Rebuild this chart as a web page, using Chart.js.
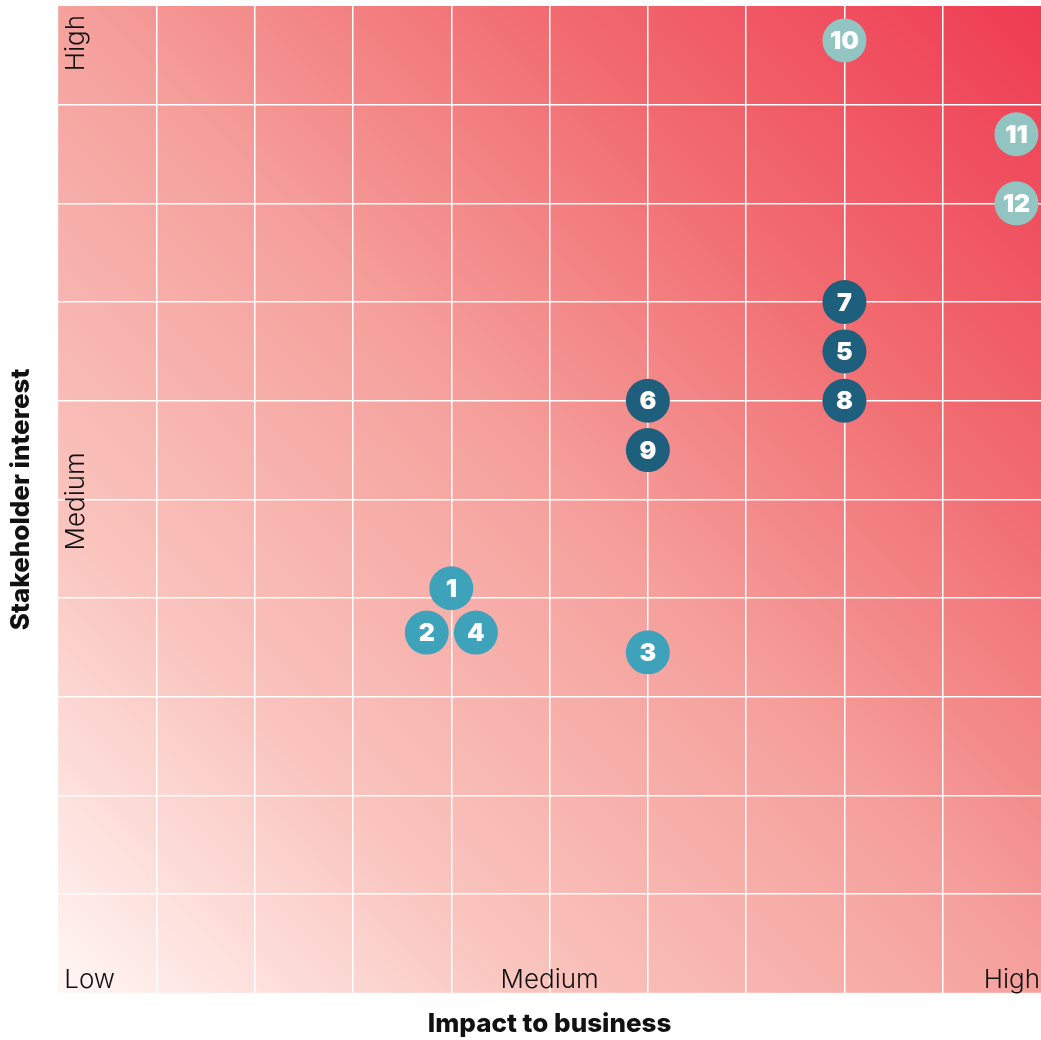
<!DOCTYPE html>
<html>
<head>
<meta charset="utf-8">
<script src="https://cdn.jsdelivr.net/npm/chart.js@4"></script>
<style>
  html, body { margin: 0; padding: 0; background: #fff; }
  #wrap { width: 1041px; height: 1040px; }
</style>
</head>
<body>
<div id="wrap"><canvas id="myChart"></canvas></div>
<script>
// risk items
var riskIds = ['1', '2', '3', '4', '5', '6', '7', '8', '9', '10', '11', '12'];
var impact = [4.0, 3.75, 6.0, 4.25, 8.0, 6.0, 8.0, 8.0, 6.0, 8.0, 9.75, 9.75];
var interest = [4.1, 3.65, 3.45, 3.65, 6.5, 6.0, 7.0, 6.0, 5.5, 9.65, 8.7, 8.0];
var riskGroup = ['mid', 'mid', 'mid', 'mid', 'dark', 'dark', 'dark', 'dark', 'dark', 'light', 'light', 'light'];

var groupNames = ['mid', 'dark', 'light'];
var groupColors = { mid: '#3fa2bb', dark: '#1d5f7c', light: '#92c4c2' };

// tick labels (Low / Medium / High)
var levelLabels = ['Low', 'Medium', 'High'];
var levelValues = [0, 5, 10];

var datasets = groupNames.map(function (g) {
  var pts = [];
  for (var i = 0; i < riskIds.length; i++) {
    if (riskGroup[i] === g) pts.push({ x: impact[i], y: interest[i], id: riskIds[i] });
  }
  return {
    label: g,
    data: pts,
    backgroundColor: groupColors[g],
    borderWidth: 0,
    pointRadius: 22,
    pointHoverRadius: 22
  };
});

// фон-градиент
var bgPlugin = {
  id: 'bgGradient',
  beforeDraw: function (chart) {
    var a = chart.chartArea, c = chart.ctx;
    var grd = c.createLinearGradient(a.left, a.bottom, a.right, a.top);
    grd.addColorStop(0, '#fff6f4');
    grd.addColorStop(0.25, '#fac3bd');
    grd.addColorStop(0.5, '#f5a19d');
    grd.addColorStop(0.75, '#f16a6f');
    grd.addColorStop(1, '#ef3b53');
    c.save();
    c.fillStyle = grd;
    c.fillRect(a.left, a.top, a.right - a.left, a.bottom - a.top);
    c.restore();
  }
};

// Low / Medium / High inside the plot
var levelPlugin = {
  id: 'levelLabels',
  afterDraw: function (chart) {
    var c = chart.ctx, a = chart.chartArea;
    var xs = chart.scales.x, ys = chart.scales.y;
    c.save();
    c.fillStyle = '#111';
    c.font = '300 26px Inter, "Noto Sans", sans-serif';
    c.textBaseline = 'alphabetic';
    for (var i = 0; i < levelLabels.length; i++) {
      var px = xs.getPixelForValue(levelValues[i]);
      c.textAlign = i === 0 ? 'left' : (i === levelLabels.length - 1 ? 'right' : 'center');
      var off = i === 0 ? 6 : (i === levelLabels.length - 1 ? -1 : 0);
      c.fillText(levelLabels[i], px + off, a.bottom - 5);
    }
    // y side, skip Low (shared corner)
    for (var j = 1; j < levelLabels.length; j++) {
      var py = ys.getPixelForValue(levelValues[j]);
      c.save();
      c.translate(a.left + 26, j === levelLabels.length - 1 ? py + 9 : py + 2);
      c.rotate(-Math.PI / 2);
      c.textAlign = j === levelLabels.length - 1 ? 'right' : 'center';
      c.fillText(levelLabels[j], 0, 0);
      c.restore();
    }
    c.restore();
  }
};

// numbers in the circles
var idPlugin = {
  id: 'pointIds',
  afterDatasetsDraw: function (chart) {
    var c = chart.ctx;
    c.save();
    c.fillStyle = '#fff';
    c.font = '900 25px Inter, "Noto Sans", sans-serif';
    c.textAlign = 'center';
    c.textBaseline = 'middle';
    chart.data.datasets.forEach(function (ds, di) {
      chart.getDatasetMeta(di).data.forEach(function (el, k) {
        c.fillText(ds.data[k].id, el.x, el.y + 1);
      });
    });
    c.restore();
  }
};

function gridColor(ctx) {
  var v = ctx.tick ? ctx.tick.value : null;
  return (v === 0 || v === 10) ? 'rgba(0,0,0,0)' : '#ffffff';
}

var ctx = document.getElementById('myChart').getContext('2d');
var myChart = new Chart(ctx, {
  type: 'scatter',
  data: { datasets: datasets },
  options: {
    responsive: true,
    maintainAspectRatio: false,
    animation: false,
    layout: { autoPadding: false, padding: { top: 6, right: 0, left: 0, bottom: 0 } },
    plugins: {
      legend: { display: false },
      tooltip: { enabled: false }
    },
    scales: {
      x: {
        min: 0, max: 10,
        ticks: { display: false, stepSize: 1 },
        grid: { color: gridColor, lineWidth: 1.5, drawTicks: false },
        border: { display: false },
        title: {
          display: true,
          text: 'Impact to business',
          color: '#111',
          font: { family: 'Inter', size: 26, weight: 800 },
          padding: { top: 16, bottom: 0 }
        }
      },
      y: {
        min: 0, max: 10,
        ticks: { display: false, stepSize: 1 },
        grid: { color: gridColor, lineWidth: 1.5, drawTicks: false },
        border: { display: false },
        title: {
          display: true,
          text: 'Stakeholder interest',
          color: '#111',
          font: { family: 'Inter', size: 26, weight: 800 },
          padding: { top: 6, bottom: 21 }
        }
      }
    }
  },
  plugins: [bgPlugin, levelPlugin, idPlugin]
});
</script>
</body>
</html>
